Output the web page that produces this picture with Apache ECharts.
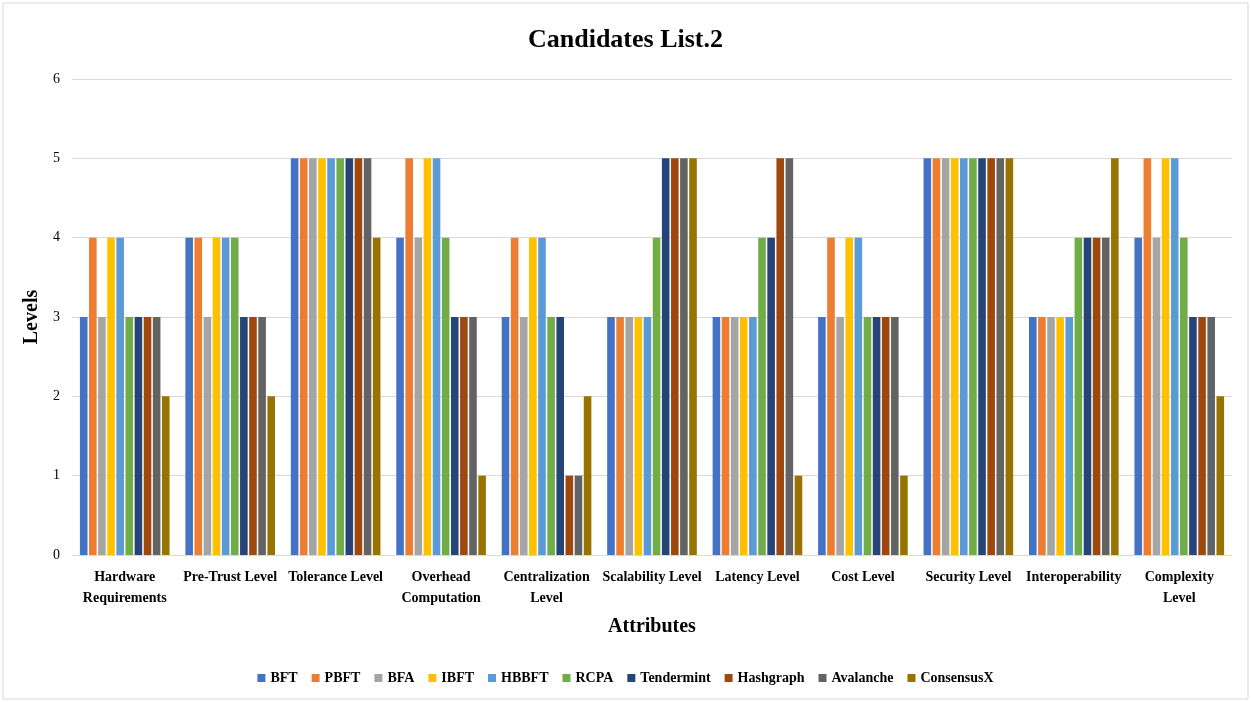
<!DOCTYPE html>
<html>
<head>
<meta charset="utf-8">
<script src="https://cdn.jsdelivr.net/npm/echarts@6/dist/echarts.min.js"></script>
<style>
  html, body { margin: 0; padding: 0; background: #fff; }
  #chart { width: 1251px; height: 702px; }
</style>
</head>
<body>
<div id="chart"></div>
<script>
// attributes on the x axis
const categories = ['Hardware\nRequirements', 'Pre-Trust Level', 'Tolerance Level', 'Overhead\nComputation',
  'Centralization\nLevel', 'Scalability Level', 'Latency Level', 'Cost Level', 'Security Level',
  'Interoperability', 'Complexity\nLevel']

const seriesNames = ['BFT', 'PBFT', 'BFA', 'IBFT', 'HBBFT', 'RCPA', 'Tendermint', 'Hashgraph', 'Avalanche', 'ConsensusX']
const colors = ['#4472C4', '#ED7D31', '#A5A5A5', '#FFC000', '#5B9BD5', '#70AD47', '#264478', '#9E480E', '#636363', '#997300']

// levels per candidate, one value per attribute
const bft        = [3, 4, 5, 4, 3, 3, 3, 3, 5, 3, 4]
const pbft       = [4, 4, 5, 5, 4, 3, 3, 4, 5, 3, 5]
const bfa        = [3, 3, 5, 4, 3, 3, 3, 3, 5, 3, 4]
const ibft       = [4, 4, 5, 5, 4, 3, 3, 4, 5, 3, 5]
const hbbft      = [4, 4, 5, 5, 4, 3, 3, 4, 5, 3, 5]
const rcpa       = [3, 4, 5, 4, 3, 4, 4, 3, 5, 4, 4]
const tendermint = [3, 3, 5, 3, 3, 5, 4, 3, 5, 4, 3]
const hashgraph  = [3, 3, 5, 3, 1, 5, 5, 3, 5, 4, 3]
const avalanche  = [3, 3, 5, 3, 1, 5, 5, 3, 5, 4, 3]
const consensusX = [2, 2, 4, 1, 2, 5, 1, 1, 5, 5, 2]

const yTicks = [0, 1, 2, 3, 4, 5, 6]

const allData = [bft, pbft, bfa, ibft, hbbft, rcpa, tendermint, hashgraph, avalanche, consensusX]
const font = "'Liberation Serif', 'Times New Roman', serif"

const chart = echarts.init(document.getElementById('chart'))
chart.setOption({
  color: colors,
  textStyle: { fontFamily: font },
  title: {
    text: 'Candidates List.2',
    left: 'center',
    top: 22,
    textStyle: { fontFamily: font, fontSize: 26, fontWeight: 'bold', color: '#000' }
  },
  graphic: [{
    type: 'rect',
    shape: { x: 3, y: 3, width: 1245, height: 696 },
    style: { fill: 'none', stroke: '#d9d9d9', lineWidth: 1 },
    silent: true
  }],
  legend: {
    data: seriesNames,
    bottom: 12,
    left: 'center',
    itemWidth: 8,
    itemHeight: 8,
    itemGap: 14,
    icon: 'rect',
    textStyle: { fontFamily: font, fontSize: 14, fontWeight: 'bold', color: '#000' }
  },
  grid: { left: 72, right: 19, top: 79, bottom: 147 },
  xAxis: {
    type: 'category',
    data: categories,
    name: 'Attributes',
    nameLocation: 'middle',
    nameGap: 62,
    nameTextStyle: { fontFamily: font, fontSize: 20, fontWeight: 'bold', color: '#000' },
    axisTick: { show: false },
    axisLine: { lineStyle: { color: '#d9d9d9' } },
    axisLabel: {
      interval: 0,
      margin: 12,
      lineHeight: 21,
      fontFamily: font,
      fontSize: 14,
      fontWeight: 'bold',
      color: '#000'
    }
  },
  yAxis: {
    type: 'value',
    min: yTicks[0],
    max: yTicks[yTicks.length - 1],
    interval: 1,
    name: 'Levels',
    nameLocation: 'middle',
    nameGap: 25,
    nameTextStyle: { fontFamily: font, fontSize: 20, fontWeight: 'bold', color: '#000' },
    axisLine: { show: false },
    axisTick: { show: false },
    axisLabel: { fontFamily: font, fontSize: 14, color: '#000', margin: 12 },
    splitLine: { lineStyle: { color: '#d9d9d9' } }
  },
  series: seriesNames.map((name, i) => ({
    name: name,
    type: 'bar',
    data: allData[i],
    barGap: '20%',
    barCategoryGap: '15%'
  }))
})
</script>
</body>
</html>
